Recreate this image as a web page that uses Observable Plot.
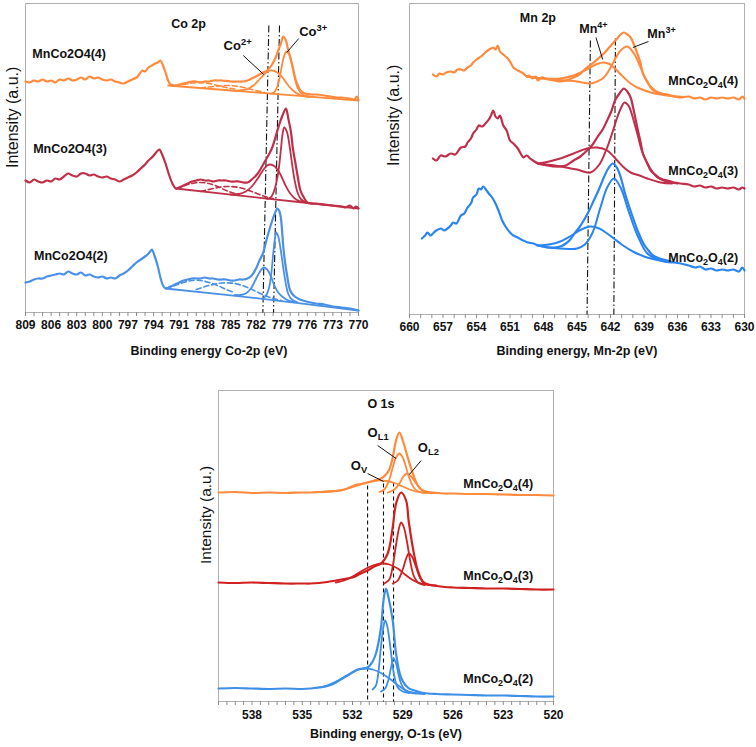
<!DOCTYPE html>
<html><head><meta charset="utf-8">
<script src="https://cdn.jsdelivr.net/npm/d3@7"></script>
<script src="https://cdn.jsdelivr.net/npm/@observablehq/plot@0.6"></script>
<style>
html,body{margin:0;padding:0;background:#fff;}
#fig{position:relative;width:756px;height:747px;background:#fff;overflow:hidden;}
#fig svg{position:absolute;overflow:visible;background:transparent;}
#fig g[aria-label="x-axis tick label"] text{font-weight:700;}
</style></head><body><div id="fig"></div>
<script>
// ===================== Co 2p panel (binding energy eV, intensity a.u.) =====================
const coTicks = [809,806,803,800,797,794,791,788,785,782,779,776,773,770];
const coMinor = d3.range(770, 810, 1);
const coSamples = ["MnCo2O4(4)", "MnCo2O4(3)", "MnCo2O4(2)"];

const co4Raw = [[809,231],[808.5,230],[808,232],[807.5,231],[807,233],[806.5,231],[806,232],[805.5,230],[805,233],[804.5,232],[804,234],[803.5,232],[803,233],[802.5,235],[802,233],[801.5,236],[801,234],[800.5,235],[800,233],[799.5,232],[799,233],[798.5,231],[798,230],[797.5,229],[797,231],[796.5,233],[796,235],[795.7,238],[795.3,242],[795,241],[794.6,245],[794.2,247],[793.8,249],[793.5,250],[793.2,252],[792.9,247],[792.6,240],[792.3,232],[792,228],[791.5,227],[791,228],[790.5,229],[790,230],[789.5,231],[789,231],[788.5,230],[788,231],[787.5,231],[787,232],[786.5,232],[786,232],[785,231],[784,231],[783.5,231],[783,232],[782.5,234],[781.8,237],[781.2,240],[780.7,242],[780.2,247],[779.7,255],[779.4,262],[779.1,269],[778.8,276],[778.5,272],[778.3,265],[778,255],[777.7,245],[777.4,234],[777.1,227],[776.8,222],[776.3,219],[775.5,218],[775,218],[774,217],[773.3,216],[772.5,215],[772,215],[771,214],[770.5,213],[770.2,216],[770,212]];
const co4Base = [[792.3,227],[781,219.4],[770,212]];
const co4Co2 = [[785,222.1],[784,222],[783,223.5],[782.3,227],[781.6,233],[781,238.5],[780.5,241.5],[780.1,242],[779.6,240.5],[779,236],[778.4,229],[777.8,223],[777.2,219],[776.5,216.5],[775.8,215.8]];
const co4Co3 = [[780.3,218.8],[779.9,220],[779.5,226],[779.2,236],[778.9,250],[778.6,259],[778.4,261],[778.1,258],[777.8,249],[777.5,236],[777.2,226],[776.8,220],[776.3,216.6],[775.5,215.7]];
const co4SatA = [[791.5,227],[790.5,228],[789.5,229.5],[788.5,230],[787.5,229],[786.5,227],[785.5,225],[784.5,223.5]];
const co4SatB = [[788.5,224.5],[787,226],[785.5,227],[784,226],[782.5,223],[781,220]];

const co3Raw = [[809,132],[808.5,130],[808,133],[807.5,131],[807,130],[806.5,132],[806,131],[805.5,134],[805,133],[804.5,136],[804,139],[803.5,137],[803,136],[802.5,139],[802,139],[801.5,137],[801,138],[800.5,136],[800,135],[799.5,136],[799,134],[798.5,133],[798,131],[797.5,133],[797,135],[796.5,137],[796,140],[795.5,144],[795,148],[794.6,152],[794.2,155],[793.8,159],[793.5,162],[793.3,163],[793,158],[792.6,149],[792.2,138],[791.8,129],[791.4,124],[791,125],[790.5,127],[790,129],[789.5,131],[789,132],[788.5,133],[788,132],[787.5,132],[787,131],[786.5,132],[786,132],[785.5,132],[785,131],[784.5,131],[784,131],[783.5,130],[783,130],[782.5,133],[781.8,139],[781.3,146],[780.9,152],[780.5,158],[780.1,165],[779.8,173],[779.5,182],[779.2,190],[778.9,197],[778.5,204],[778.2,193],[777.9,180],[777.7,165],[777.4,150],[777.1,135],[776.8,122],[776.4,115],[776,110],[775.5,109],[775,109],[774,108],[773,107],[772,106],[771.5,105],[771,107],[770.6,104],[770.3,106],[770,104]];
const co3Base = [[791.4,124],[781,114.2],[770,104]];
const co3Co2 = [[785,118],[784,118.5],[783.2,121],[782.5,126],[781.8,134],[781.2,142],[780.7,147],[780.3,148],[779.8,146],[779.2,139],[778.6,128],[778,119],[777.3,113],[776.5,110.5],[775.8,109.5]];
const co3Co3 = [[780.7,113.5],[780.2,116],[779.8,124],[779.4,140],[779.1,162],[778.9,178],[778.7,185],[778.4,181],[778.1,168],[777.8,150],[777.5,133],[777.1,119],[776.7,113],[776.2,110.5],[775.5,109]];
const co3SatA = [[791.3,124],[790.5,126.5],[789.5,129],[788.5,130],[787.5,129],[786.5,126],[785.5,122],[784.5,119]];
const co3SatB = [[788.5,121],[787,124],[785.5,126],[784,125],[782.5,121],[781,116],[780,114]];

const co2Raw = [[809,30],[808.5,31],[808,33],[807.5,34],[807,34],[806.5,36],[806,37],[805.5,38],[805,39],[804.5,38],[804,41],[803.5,39],[803,38],[802.5,40],[802,37],[801.5,38],[801,36],[800.5,35],[800,36],[799.5,34],[799,35],[798.5,34],[798,37],[797.5,39],[797,42],[796.5,46],[796,50],[795.5,53],[795,56],[794.7,58],[794.4,61],[794.2,63],[793.9,57],[793.5,46],[793.2,35],[792.9,27],[792.6,24],[792,26],[791.5,28],[791,30],[790.5,32],[790,33],[789.5,34],[789,34],[788.5,34],[788,35],[787.5,34],[787,34],[786.5,33],[786,33],[785.5,33],[785,32],[784.5,32],[784,33],[783.5,33],[783,34],[782.5,37],[782,44],[781.6,52],[781.2,59],[780.7,75],[780.1,92],[779.8,99],[779.5,104],[779.3,102],[779.1,95],[778.8,65],[778.6,50],[778.4,39],[778,22],[777.6,17],[777.1,14],[776.5,12],[775.6,10],[775,9],[774,8],[773,6],[772,5],[771,4],[770.5,3],[770,2]];
const co2Base = [[792.6,24],[781,13.4],[770,2]];
const co2Co2 = [[784.5,17.5],[783.8,17.5],[783.2,19],[782.6,24],[782.1,32],[781.6,40],[781.1,45],[780.7,43],[780.3,37],[779.9,28],[779.4,20],[778.8,15],[778.2,12],[777.5,10.5]];
const co2Co3 = [[781.3,14],[780.9,16],[780.5,24],[780.2,40],[780,58],[779.8,73],[779.65,80],[779.4,76],[779.1,62],[778.8,44],[778.5,28],[778.2,18],[777.8,13],[777.2,10.5]];
const co2SatA = [[792.5,24],[791.5,27],[790.5,30],[789.5,32],[788.5,32],[787.5,30],[786.5,27],[785.5,23],[784.5,20]];
const co2SatB = [[789,23],[787.5,27],[786,29.5],[784.5,29],[783,25],[781.5,19],[780,14],[779,12]];

const coRefLines = [[780.5,781.2,287],[779.25,779.95,287]];   // [E top, E bottom, I top]

// ===================== Mn 2p panel =====================
const mnTicks = [660,657,654,651,648,645,642,639,636,633,630];
const mnMinor = d3.range(630, 661, 1);

const mn4Raw = [[657.9,240],[657.6,238],[657.3,241],[657,240],[656.7,242],[656.3,243],[656,242],[655.7,245],[655.4,245],[655.1,244],[654.8,247],[654.5,249],[654.3,252],[654,255],[653.6,258],[653.3,261],[653,264],[652.7,266],[652.5,267],[652.3,265],[652.1,269],[651.9,263],[651.6,260],[651.2,256],[650.9,251],[650.7,247],[650.3,244],[649.8,241],[649.5,238],[649.3,239],[649,236],[648.7,238],[648.5,234],[648.2,237],[647.6,235],[647,234],[646.5,233],[646,234],[645.3,237],[644.8,240],[644.4,244],[644,248],[643.5,252],[643,257],[642.6,261],[642.2,266],[641.8,271],[641.4,276],[641.1,280],[640.8,282],[640.5,280],[640.2,277],[639.9,270],[639.6,261],[639.3,251],[639.1,241],[638.7,233],[638.4,227],[638,223],[637.5,221],[636.9,220],[636.3,218],[635.7,217],[635,218],[634.5,216],[634,217],[633.5,215],[633,217],[632.5,216],[632,217],[631.5,216],[631,217],[630.5,215],[630.2,218],[630,216]];
const mn4Mn3 = [[649.5,238],[648,236],[647,235],[646,234],[645,233],[643.8,231],[643.2,233],[642.6,237],[642.2,243],[641.8,251],[641.4,259],[641.1,264],[640.5,268],[639.9,261],[639.3,247],[638.7,232],[638,224],[637.2,220],[636.5,218.5]];
const mn4Mn4 = [[649.5,238],[648,236],[646.5,236],[645.3,239],[644.5,243],[643.8,247],[643.2,250.5],[642.6,252],[642.1,250.5],[641.7,247],[640.8,237],[640.2,231],[639.6,227],[638.4,222],[636.9,219],[635.5,217.5]];

const mn3Raw = [[657.9,156],[657.6,154],[657.2,159],[656.8,158],[656.3,161],[655.9,160],[655.4,167],[655,168],[654.8,172],[654.5,176],[654.3,181],[654,185],[653.8,189],[653.5,188],[653.2,191],[652.9,195],[652.7,199],[652.5,204],[652.3,198],[652.1,196],[651.9,199],[651.6,189],[651.3,184],[651,174],[650.7,171],[650.3,166],[650,160],[649.8,157],[649.5,159],[649.2,156],[648.8,153],[648.5,151],[648.2,150],[647.6,149],[647,148],[646.5,148],[646,149],[645.3,154],[644.7,158],[644.1,164],[643.6,170],[643.2,177],[642.7,185],[642.3,194],[641.9,204],[641.6,214],[641.2,221],[640.8,226],[640.5,223],[640.2,217],[639.9,203],[639.6,187],[639.3,172],[639.1,161],[638.7,151],[638.4,144],[638,140],[637.7,137],[637.3,135],[636.9,134],[636.3,132],[635.7,131],[635,130],[634.5,128],[634,129],[633.5,127],[633,128],[632.5,126],[632,127],[631.5,126],[631,127],[630.5,125],[630.2,127],[630,126]];
const mn3Mn3 = [[648.5,151],[647,149],[646,147],[645,145],[643.8,142],[643,150],[642.3,167],[641.8,183],[641.4,197],[641,208],[640.75,212],[640.4,209],[640.2,204],[639.6,181],[639.2,164],[638.7,151],[638.2,142],[637.8,137],[637,133],[636,131]];
const mn3Mn4 = [[648.5,151],[647.5,153],[646.5,156],[645.3,161],[644.1,166],[643.2,167],[642.3,164],[641.4,154],[640.8,147],[640.2,142],[639.4,139],[638.7,136],[637.5,132],[636.5,131]];

const mn2Raw = [[658.9,76],[658.6,79],[658.4,82],[658.1,79],[657.9,81],[657.6,84],[657.2,86],[656.9,84],[656.6,86],[656.3,89],[656.1,92],[655.8,91],[655.4,99],[655.1,101],[654.8,107],[654.5,111],[654.3,117],[654,120],[653.8,126],[653.6,125],[653.4,128],[653.1,124],[652.9,121],[652.6,117],[652.3,111],[652,103],[651.7,94],[651.4,88],[651,82],[650.7,79],[650.3,77],[650,75],[649.8,74],[649.4,72],[648.9,71],[648.5,69],[648,68],[647.6,67],[647,67],[646.5,68],[646,71],[645.6,75],[645.3,80],[644.8,87],[644.4,94],[644,102],[643.5,114],[643,126],[642.6,137],[642.2,146],[641.8,151],[641.5,148],[641.3,144],[641,134],[640.7,121],[640.3,107],[639.9,94],[639.5,82],[639.05,71],[638.6,64],[638.2,59],[637.6,56],[636.9,54],[636.3,52],[635.7,51],[635,49],[634.4,47],[634,48],[633.5,45],[633,46],[632.5,44],[632,45],[631.5,44],[631,45],[630.5,43],[630.2,47],[630,44]];
const mn2Mn3 = [[648.5,69],[647.5,67],[646.5,66],[645.5,65.5],[645,66],[644.3,70],[643.6,82],[642.9,107],[642.3,127],[641.7,136],[641.1,127],[640.4,104],[639.9,88],[639.5,77],[638.7,61],[637.5,54],[636.5,52]];
const mn2Mn4 = [[648.5,69],[647.5,70],[646.5,73],[645.5,79],[644.6,85],[643.8,88],[643,86],[642.3,81],[641.7,76],[641,70],[640,63],[639,58],[638,55],[637,53]];

const mnRefLines = [[643.8,644.1,274],[641.56,641.7,276]];

// ===================== O 1s panel =====================
const oTicks = [538,535,532,529,526,523,520];
const oMinor = d3.range(520, 540.01, 0.5);

const o4Raw = [[540,209],[539,209.5],[538,208.5],[537,209],[536,208.5],[535,209],[534.5,209],[534,209.5],[533.5,210],[533,210.5],[532.7,211],[532.3,213],[531.9,216],[531.5,217.5],[531.1,219],[530.7,221],[530.3,223],[530,227],[529.8,232],[529.6,244],[529.4,261],[529.2,269],[529,261],[528.7,244],[528.4,228],[528.1,216],[527.8,211],[527.5,209.5],[527.2,209],[526.5,208],[526,208],[525,207.5],[524,207.5],[523,207],[522,206.5],[521,206.5],[520,206]];
const o4Ov = [[533.8,209.5],[533,210.5],[532.3,213],[531.6,216.5],[531,219.5],[530.5,221],[530,220.5],[529.5,218.5],[529,215],[528.5,211.5],[528,209.5],[527.3,208.5]];
const o4Ol1 = [[530.4,209.5],[530.1,212],[529.8,222],[529.6,234],[529.4,244],[529.2,248],[529,244],[528.8,234],[528.6,223],[528.3,213],[528,209.5],[527.6,208.5]];
const o4Ol2 = [[529.9,209],[529.5,212],[529.2,218],[529,224],[528.75,228],[528.5,225],[528.2,218],[527.9,212],[527.5,209],[527,208.5]];

const o3Raw = [[540,119],[539,118.5],[538,119],[537,118.5],[536,118],[535,118],[534.5,118],[534,118.5],[533.5,119.5],[533,121],[532.5,122.5],[532,124],[531.5,128],[531.1,131],[530.7,135],[530.3,138],[529.9,148],[529.6,174],[529.4,198],[529.1,209],[528.8,201],[528.65,181],[528.4,154],[528.1,131],[527.8,120],[527.5,117],[527.2,116],[526.5,114.5],[526,114],[525,113.5],[524,113],[523,113],[522,112.5],[521,112],[520,112]];
const o3Ov = [[533,119],[532.5,121],[532,125],[531.5,130],[531,134.5],[530.6,137],[530.2,138],[529.8,137],[529.3,133],[528.9,127.5],[528.5,122.5],[528.1,119],[527.6,117],[527,116]];
const o3Ol1 = [[530.1,118],[529.8,122],[529.6,135],[529.4,157],[529.2,175],[529.1,179],[528.95,175],[528.75,160],[528.55,140],[528.35,126],[528.1,119],[527.7,116.5]];
const o3Ol2 = [[529.6,118],[529.3,121],[529,132],[528.8,143],[528.65,148],[528.45,145],[528.2,134],[527.95,123],[527.7,118],[527.3,116.5]];

const o2Raw = [[540,13],[539,13.5],[538,13],[537,12.5],[536,13],[535,12.5],[534.5,13],[534,14],[533.5,15.5],[533.1,18],[532.7,22],[532.3,26],[531.7,32],[531.1,34],[530.8,40],[530.6,48],[530.3,74],[530.15,101],[530,113],[529.85,104],[529.6,81],[529.4,48],[529.1,24],[528.7,14],[528.3,11],[527.9,9],[527.5,8],[527,7.5],[526,7],[525,6.5],[524,6],[523,6],[522,5.5],[521,5],[520,5]];
const o2Ov = [[534.3,13.5],[533.7,15],[533.1,19],[532.5,24.5],[532,29],[531.6,32],[531.2,33],[530.8,32],[530.3,28.5],[529.8,23],[529.3,16.5],[528.8,11],[528.3,8.5],[527.7,7.5]];
const o2Ol1 = [[530.8,12],[530.6,16],[530.45,30],[530.3,55],[530.15,75],[530.05,81],[529.95,77],[529.8,62],[529.65,42],[529.5,25],[529.3,14],[529,10],[528.6,8.5]];
const o2Ol2 = [[530.3,10],[530.05,13],[529.85,22],[529.7,34],[529.55,43],[529.4,38],[529.25,27],[529.1,18],[528.9,12],[528.6,9],[528.2,8]];

const oRefLines = [[531.1,531.1,216],[530.15,530.15,218],[529.55,529.55,219]];

// ===================== drawing =====================
const FONT = "'Liberation Sans', Arial, Helvetica, sans-serif";
const ORANGE = "#FF8A3D";
const fig = document.getElementById("fig");

function rich(svg) {
  svg.querySelectorAll("text").forEach(t => {
    const s = t.textContent;
    if (!/[_^]\{/.test(s)) return;
    t.textContent = "";
    const re = /([_^])\{([^}]*)\}/g;
    let last = 0, m;
    const add = (str, kind) => {
      const ts = document.createElementNS("http://www.w3.org/2000/svg", "tspan");
      ts.textContent = str;
      if (kind) {
        ts.setAttribute("font-size", "72%");
        ts.setAttribute("baseline-shift", kind === "_" ? "-3px" : "5px");
      }
      t.appendChild(ts);
    };
    while ((m = re.exec(s))) {
      if (m.index > last) add(s.slice(last, m.index));
      add(m[2], m[1]);
      last = re.lastIndex;
    }
    if (last < s.length) add(s.slice(last));
  });
}

const pt = {x: d => d[0], y: d => d[1]};

function spectrum(data, color, opts = {}) {
  return Plot.line(data, {...pt, stroke: color, strokeWidth: opts.w ?? 2, strokeDasharray: opts.dash, curve: "catmull-rom"});
}

function frameMarks(cfg) {
  const isMajor = v => cfg.ticks.some(t => Math.abs(t - v) < 1e-6);
  return [
    Plot.frame({stroke: "#b0b0b0"}),
    Plot.axisX(cfg.minor, {tickSize: 4, tickPadding: cfg.tickPad, stroke: "#8c8c8c", fontSize: 12, fontWeight: "bold", tickFormat: v => isMajor(v) ? String(v) : "", label: null}),
    Plot.text([cfg.xTitle], {frameAnchor: "bottom", dy: cfg.xTitleDy, dx: cfg.xTitleDx, fontWeight: "bold", fontSize: 12.5, fill: "#111"}),
    Plot.text(["Intensity (a.u.)"], {frameAnchor: "left", rotate: -90, dx: cfg.yTitleDx, dy: cfg.yTitleDy, fontSize: cfg.yTitleSize, fill: "#111"}),
    Plot.link(cfg.refLines, {x1: d => d[0], y1: d => d[2], x2: d => d[1], y2: () => 0, stroke: "#111", strokeWidth: 1.1, strokeDasharray: cfg.refDash})
  ];
}

function panel(cfg, marks) {
  const svg = Plot.plot({
    width: cfg.w, height: cfg.h,
    marginLeft: cfg.ml, marginRight: cfg.mr, marginTop: cfg.mt, marginBottom: cfg.mb,
    x: {domain: cfg.domain},
    y: {domain: [0, cfg.yMax], axis: null},
    style: {fontFamily: FONT, fontSize: "12px", color: "#111", background: "transparent", overflow: "visible"},
    marks: [...frameMarks(cfg), ...marks]
  });
  svg.style.left = cfg.left + "px";
  svg.style.top = cfg.top + "px";
  rich(svg);
  fig.appendChild(svg);
}

// ---- Panel 1: Co 2p
{
  const RED = "#BF3048", BLUE = "#4A90E6";
  const marks = [];
  [[co4Raw, co4Base, co4Co2, co4Co3, co4SatA, co4SatB, ORANGE],
   [co3Raw, co3Base, co3Co2, co3Co3, co3SatA, co3SatB, RED],
   [co2Raw, co2Base, co2Co2, co2Co3, co2SatA, co2SatB, BLUE]].forEach(([raw, base, c2, c3, sa, sb, col]) => {
    marks.push(spectrum(base, col, {w: 1.8}), spectrum(sa, col, {w: 1.6, dash: "5,3"}), spectrum(sb, col, {w: 1.6, dash: "5,3"}),
               spectrum(c2, col, {w: 1.8}), spectrum(c3, col, {w: 1.8}), spectrum(raw, col, {w: 2.2}));
  });
  const sampleAt = [[808.2, 259], [808.1, 164], [808.0, 57]];
  marks.push(
    Plot.text(coSamples, {x: (d, i) => sampleAt[i][0], y: (d, i) => sampleAt[i][1], textAnchor: "start", fontWeight: "bold", fontSize: 12.5, fill: "#111"}),
    Plot.text(["Co 2p"], {x: () => 789.9, y: () => 289, fontWeight: "bold", fontSize: 12.5, fill: "#111"}),
    Plot.text(["Co^{2+}", "Co^{3+}"], {x: (d, i) => [785.8, 776.95][i], y: (d, i) => [266.5, 280.5][i], textAnchor: "start", fontWeight: "bold", fontSize: 13, fill: "#111"}),
    Plot.link([[783.5, 257, 781.1, 238], [777.0, 274, 778.4, 260]], {x1: d => d[0], y1: d => d[1], x2: d => d[2], y2: d => d[3], stroke: "#111", strokeWidth: 1})
  );
  panel({left: 0, top: 0, w: 370, h: 365, ml: 25, mr: 12, mt: 3, mb: 53, domain: [809, 770], yMax: 309,
         ticks: coTicks, minor: coMinor, tickPad: 4, xTitle: "Binding energy Co-2p (eV)", xTitleDy: 42, xTitleDx: 17,
         yTitleDx: -13, yTitleDy: 10, yTitleSize: 16, refLines: coRefLines, refDash: "7,2.5,1.5,2.5"}, marks);
}

// ---- Panel 2: Mn 2p
{
  const RED = "#BF2E4A", BLUE = "#2A85F2";
  const marks = [];
  [[mn4Raw, mn4Mn3, mn4Mn4, ORANGE], [mn3Raw, mn3Mn3, mn3Mn4, RED], [mn2Raw, mn2Mn3, mn2Mn4, BLUE]].forEach(([raw, m3, m4, col]) => {
    marks.push(spectrum(m4, col, {w: 2}), spectrum(m3, col, {w: 2}), spectrum(raw, col, {w: 2.2}));
  });
  const mnSamples = ["MnCo_{2}O_{4}(4)", "MnCo_{2}O_{4}(3)", "MnCo_{2}O_{4}(2)"];
  const sampleAt = [[633.7, 234], [633.7, 144], [633.7, 57]];
  marks.push(
    Plot.text(mnSamples, {x: (d, i) => sampleAt[i][0], y: (d, i) => sampleAt[i][1], fontWeight: "bold", fontSize: 12.5, fill: "#111"}),
    Plot.text(["Mn 2p"], {x: () => 648.5, y: () => 297, fontWeight: "bold", fontSize: 12.5, fill: "#111"}),
    Plot.text(["Mn^{4+}", "Mn^{3+}"], {x: (d, i) => [644.8, 638.7][i], y: (d, i) => [286, 281][i], textAnchor: "start", fontWeight: "bold", fontSize: 12.5, fill: "#111"}),
    Plot.link([[643.3, 277, 642.7, 255], [638.6, 273, 640.0, 267]], {x1: d => d[0], y1: d => d[1], x2: d => d[2], y2: d => d[3], stroke: "#111", strokeWidth: 1})
  );
  panel({left: 380, top: 0, w: 376, h: 365, ml: 29, mr: 12, mt: 3, mb: 51, domain: [660, 630], yMax: 311,
         ticks: mnTicks, minor: mnMinor, tickPad: 4, xTitle: "Binding energy, Mn-2p (eV)", xTitleDy: 40, xTitleDx: 0,
         yTitleDx: -16, yTitleDy: 7, yTitleSize: 16, refLines: mnRefLines, refDash: "7,2.5,1.5,2.5"}, marks);
}

// ---- Panel 3: O 1s
{
  const RED = "#D0201F", BLUE = "#3D8FE8";
  const marks = [];
  [[o4Raw, o4Ov, o4Ol1, o4Ol2, ORANGE], [o3Raw, o3Ov, o3Ol1, o3Ol2, RED], [o2Raw, o2Ov, o2Ol1, o2Ol2, BLUE]].forEach(([raw, ov, l1, l2, col]) => {
    marks.push(spectrum(ov, col, {w: 1.8}), spectrum(l1, col, {w: 1.8}), spectrum(l2, col, {w: 1.8}), spectrum(raw, col, {w: 2.2}));
  });
  const oSamples = ["MnCo_{2}O_{4}(4)", "MnCo_{2}O_{4}(3)", "MnCo_{2}O_{4}(2)"];
  const sampleAt = [[523.3, 218], [523.3, 126], [523.3, 23]];
  marks.push(
    Plot.text(oSamples, {x: (d, i) => sampleAt[i][0], y: (d, i) => sampleAt[i][1], fontWeight: "bold", fontSize: 12.5, fill: "#111"}),
    Plot.text(["O 1s"], {x: () => 530.3, y: () => 298, fontWeight: "bold", fontSize: 12.5, fill: "#111"}),
    Plot.text(["O_{L1}", "O_{L2}", "O_{V}"], {x: (d, i) => [531.1, 528.1, 532.1][i], y: (d, i) => [268.5, 253.5, 235.5][i], textAnchor: "start", fontWeight: "bold", fontSize: 13, fill: "#111"}),
    Plot.link([[530.5, 256, 529.4, 243], [527.9, 241, 528.6, 227], [531.1, 228, 530.15, 220]], {x1: d => d[0], y1: d => d[1], x2: d => d[2], y2: d => d[3], stroke: "#111", strokeWidth: 1})
  );
  panel({left: 200, top: 380, w: 370, h: 367, ml: 18, mr: 17, mt: 10, mb: 46, domain: [540, 520], yMax: 311,
         ticks: oTicks, minor: oMinor, tickPad: 5, xTitle: "Binding energy, O-1s (eV)", xTitleDy: 36, xTitleDx: 0,
         yTitleDx: -12, yTitleDy: 18, yTitleSize: 15.5, refLines: oRefLines, refDash: "4,3"}, marks);
}
</script></body></html>
